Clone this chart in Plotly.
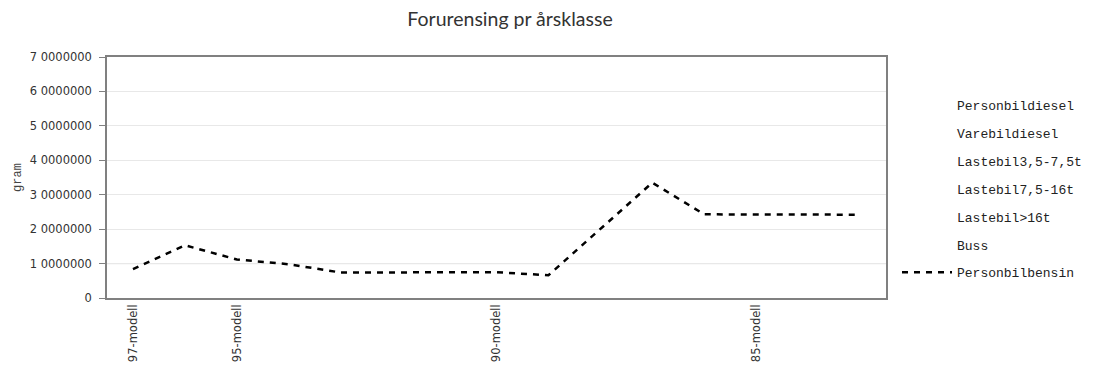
import plotly.graph_objects as go

categories = ["97-modell", "96-modell", "95-modell", "94-modell", "93-modell",
              "92-modell", "91-modell", "90-modell", "89-modell", "88-modell",
              "87-modell", "86-modell", "85-modell", "84-modell", "83-modell"]
shown_labels = ["97-modell", "95-modell", "90-modell", "85-modell"]

personbilbensin = [8.4e6, 15.3e6, 11.2e6, 9.8e6, 7.4e6, 7.4e6, 7.4e6, 7.5e6,
                   6.6e6, 20.0e6, 33.5e6, 24.3e6, 24.2e6, 24.2e6, 24.2e6]

empty_series = ["Personbildiesel", "Varebildiesel", "Lastebil3,5-7,5t",
                "Lastebil7,5-16t", "Lastebil>16t", "Buss"]

y_tickvals = [0, 10e6, 20e6, 30e6, 40e6, 50e6, 60e6, 70e6]
y_ticktext = ["0", "1 0000000", "2 0000000", "3 0000000", "4 0000000",
              "5 0000000", "6 0000000", "7 0000000"]

fig = go.Figure()
for i, name in enumerate(empty_series):
    fig.add_trace(go.Scatter(x=categories, y=[None] * len(categories), name=name,
                             mode="lines", line=dict(color="rgba(0,0,0,0)", width=2),
                             legendgroup=f"g{i}", showlegend=True))
fig.add_trace(go.Scatter(x=categories, y=personbilbensin, name="Personbilbensin",
                         mode="lines", line=dict(color="black", width=2.5, dash="6px,6px"),
                         legendgroup="g6"))

# darker 10M reference gridline
fig.add_shape(type="line", xref="paper", x0=0, x1=1, yref="y", y0=10e6, y1=10e6,
              line=dict(color="#a0a0a0", width=1), layer="below")

W, H = 1086, 361
L, T, PW, PH = 99, 49, 779, 241
fig.update_layout(
    width=W, height=H,
    paper_bgcolor="white", plot_bgcolor="white",
    margin=dict(l=L, r=W - L - PW, t=T, b=H - T - PH),
    title=dict(text="Forurensing pr årsklasse", x=502 / W, xref="container",
               y=1 - 11 / H, yref="container", yanchor="middle",
               font=dict(family="Lato", size=19.5, color="#333333")),
    showlegend=True,
    legend=dict(xref="container", yref="container",
                x=889 / W, xanchor="left", y=1 - 82 / H, yanchor="top",
                maxheight=300,
                font=dict(family="Liberation Mono", size=13, color="#222222"),
                tracegroupgap=8, itemwidth=50, bgcolor="rgba(0,0,0,0)",
                traceorder="grouped"),
    xaxis=dict(type="category", categoryorder="array", categoryarray=categories,
               tickvals=shown_labels, ticktext=shown_labels, tickangle=-90,
               showgrid=False, showline=True, linecolor="#808080", linewidth=1.5,
               mirror=True, ticks="", range=[-0.5, len(categories) - 0.5],
               automargin=False,
               tickfont=dict(family="DejaVu Sans", size=11.5, color="#333333")),
    yaxis=dict(range=[0, 70e6], tickvals=y_tickvals, ticktext=y_ticktext,
               showgrid=True, gridcolor="#e8e8e8", gridwidth=1,
               showline=True, linecolor="#808080", linewidth=1.5, mirror=True,
               zeroline=False, ticks="outside", ticklen=6, tickcolor="#808080",
               ticklabelstandoff=5, automargin=False,
               tickfont=dict(family="DejaVu Sans", size=11.5, color="#333333"),
               title=dict(text="gram", standoff=6,
                          font=dict(family="Liberation Mono", size=12, color="#444444"))),
)

fig.write_html("out.html")
